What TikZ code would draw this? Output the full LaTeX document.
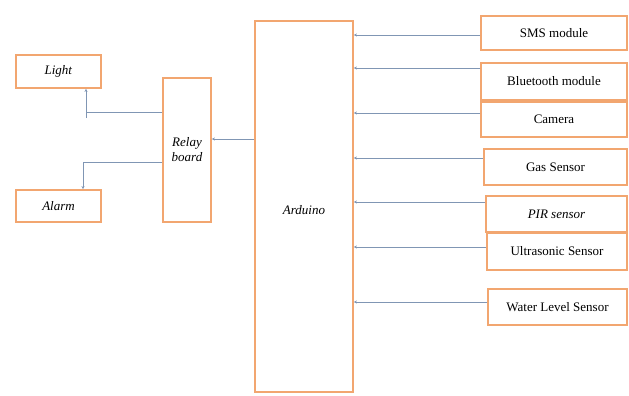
\documentclass[tikz,border=0pt]{standalone}
\usepackage{fontspec}
\setmainfont{Liberation Serif}
\usetikzlibrary{arrows.meta}
\definecolor{boxor}{RGB}{242,166,112}
\definecolor{conncol}{RGB}{128,150,180}
\tikzset{
  box/.style={draw=boxor, line width=1.8pt, fill=white, inner sep=0pt, font=\fontsize{13}{15}\selectfont, align=center},
  conn/.style={draw=conncol, line width=0.8pt},
  tip/.style={-{Stealth[length=3pt,width=3pt]}},
}
\newcommand{\bx}[6]{\node[box, minimum width=#4-#2, minimum height=#5-#3] (#1) at ({(#2+#4)/2},{(#3+#5)/2}) {#6};}
\begin{document}
\begin{tikzpicture}[x=1pt,y=-1pt]
\useasboundingbox (0,0) rectangle (629,396);
% boxes
\bx{light}{16}{55}{101}{88}{\textit{Light}}
\bx{alarm}{16}{190}{101}{222}{\textit{Alarm}}
\bx{relay}{163}{78}{211}{222}{\textit{Relay}\\[0pt]\textit{board}}
\node[box, minimum width=98, minimum height=371] (ard) at (304,206.5) {};
\node[font=\fontsize{13}{15}\selectfont] (ardlbl) at (304,210) {\textit{Arduino}};
\bx{sms}{481}{16}{627}{50}{SMS module}
\bx{bt}{481}{63}{627}{100}{Bluetooth module}
\bx{cam}{481}{102}{627}{137}{Camera}
\fill[boxor] (bt.south west) rectangle (cam.north east);
\bx{gas}{484}{149}{627}{185}{Gas Sensor}
\bx{pir}{486}{196}{627}{232}{\textit{PIR sensor}}
\bx{ult}{487}{233}{627}{270}{Ultrasonic Sensor}
\bx{wat}{488}{289}{627}{325}{Water Level Sensor}
% coordinates for connector heights
\coordinate (y1) at (0,35);
\coordinate (y2) at (0,68);
\coordinate (y3) at (0,113);
\coordinate (y4) at (0,158);
\coordinate (y5) at (0,202);
\coordinate (y6) at (0,247);
\coordinate (y7) at (0,302);
\draw[conn,tip] (sms.west |- y1) -- (ard.east |- y1);
\draw[conn,tip] (bt.west |- y2) -- (ard.east |- y2);
\draw[conn,tip] (cam.west |- y3) -- (ard.east |- y3);
\draw[conn,tip] (gas.west |- y4) -- (ard.east |- y4);
\draw[conn,tip] (pir.west |- y5) -- (ard.east |- y5);
\draw[conn,tip] (ult.west |- y6) -- (ard.east |- y6);
\draw[conn,tip] (wat.west |- y7) -- (ard.east |- y7);
% arduino to relay
\coordinate (yr) at (0,139);
\draw[conn,tip] (ard.west |- yr) -- (relay.east |- yr);
% relay to light
\coordinate (lj) at (86,112);
\coordinate (lstub) at (86,118);
\draw[conn] (relay.west |- lj) -- (lj);
\draw[conn,tip] (lstub) -- (lj |- light.south);
% relay to alarm
\coordinate (aj) at (83,162);
\draw[conn,tip] (relay.west |- aj) -- (aj) -- (aj |- alarm.north);
\end{tikzpicture}
\end{document}
